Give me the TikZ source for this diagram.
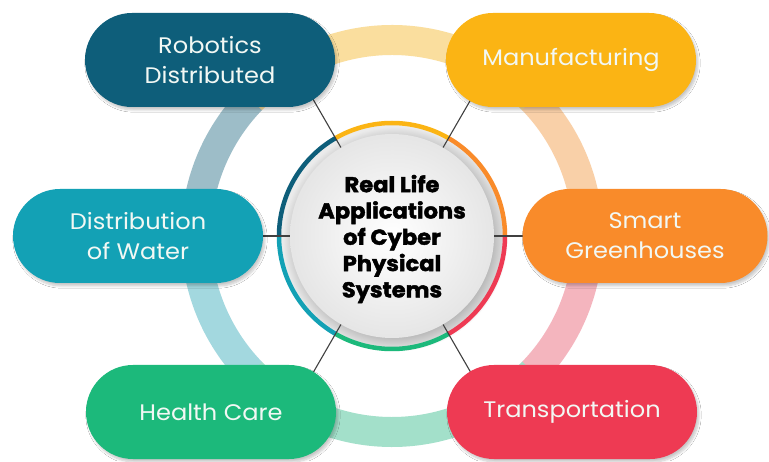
\documentclass[tikz,border=0pt]{standalone}
\usepackage{fontspec}
\setmainfont{Poppins}
\newfontfamily\heavyfont{Poppins}[FakeStretch=1.05, BoldFeatures={FakeBold=2}]
\newfontfamily\labelfont{Poppins}[FakeStretch=1.07]
\usetikzlibrary{shapes.misc,shadows.blur}
\definecolor{robC}{HTML}{0E5E7A}
\definecolor{manC}{HTML}{FBB414}
\definecolor{watC}{HTML}{13A1B5}
\definecolor{smaC}{HTML}{F98B2A}
\definecolor{heaC}{HTML}{1CB97B}
\definecolor{traC}{HTML}{EE3A53}
\definecolor{bandA}{HTML}{FADE9E}
\definecolor{bandB}{HTML}{F9D0A8}
\definecolor{bandC}{HTML}{F4B5BE}
\definecolor{bandD}{HTML}{A3E0CA}
\definecolor{bandE}{HTML}{A3D8DF}
\definecolor{bandF}{HTML}{9DBDC8}
\definecolor{labC}{HTML}{F2F8F4}
\begin{document}
\begin{tikzpicture}[x=1pt,y=1pt,
  pill/.style={rounded rectangle, minimum width=250pt, minimum height=94pt,
    inner sep=0pt, text=labC, align=center,
    font=\labelfont\fontsize{22.5}{30}\selectfont,
    blur shadow={shadow xshift=2pt, shadow yshift=-3pt, shadow blur steps=8, shadow opacity=22}},
  band/.style={line width=30pt},
  link/.style={draw=black!75, line width=1.1pt},
  ringarc/.style={line width=4.5pt}
]
\useasboundingbox (0,0) rectangle (769,461);
\fill[white] (0,0) rectangle (769,461);
\coordinate (c) at (392,225);
% background band
\draw[band, bandA] ([shift={(44:196)}]c) arc[start angle=44, end angle=136, radius=196];
\draw[band, bandB] ([shift={(0:196)}]c) arc[start angle=0, end angle=44, radius=196];
\draw[band, bandC] ([shift={(-44:196)}]c) arc[start angle=-44, end angle=0, radius=196];
\draw[band, bandD] ([shift={(224:196)}]c) arc[start angle=224, end angle=316, radius=196];
\draw[band, bandE] ([shift={(180:196)}]c) arc[start angle=180, end angle=224, radius=196];
\draw[band, bandF] ([shift={(136:196)}]c) arc[start angle=136, end angle=180, radius=196];
% central disc
\fill[gray!16] (c) circle (111);
\node[circle, minimum size=204pt, inner sep=0pt, draw=none,
  inner color=white, outer color=gray!20,
  circular drop shadow={shadow xshift=3pt, shadow yshift=-3pt, opacity=.5}] (core) at (c) {};
\foreach \a/\b/\col in {60/120/manC, 0/60/smaC, -60/0/traC, 240/300/heaC, 180/240/watC, 120/180/robC}
  \draw[ringarc, \col] ([shift={(\a:113)}]c) arc[start angle=\a, end angle=\b, radius=113];
\node[font=\heavyfont\bfseries\fontsize{21.5}{26.3}\selectfont, align=center, text=black] (title) at ([yshift=-3pt]c)
  {Real Life\\Applications\\of Cyber\\Physical\\Systems};
% connector ends
\foreach \ang/\nm/\rr in {120/k1/165, 60/k2/165, 180/k3/140, 0/k4/140, 240/k5/165, 300/k6/165}
  \coordinate (\nm) at ([shift={(\ang:\rr)}]c);
\draw[link] (core.120) -- (k1);
\draw[link] (core.60) -- (k2);
\draw[link] (core.180) -- (k3);
\draw[link] (core.0) -- (k4);
\draw[link] (core.240) -- (k5);
\draw[link] (core.300) -- (k6);
% boxes
\node[pill, fill=robC] (rob) at (210,401) {Robotics\\Distributed};
\node[pill, fill=manC] (man) at (571,401) {Manufacturing};
\node[pill, fill=watC] (wat) at (138,225) {Distribution\\of Water};
\node[pill, fill=smaC, minimum width=245pt] (sma) at (645,225) {Smart\\Greenhouses};
\node[pill, fill=heaC] (hea) at (211,49) {Health Care};
\node[pill, fill=traC] (tra) at (572,49) {Transportation};
\end{tikzpicture}
\end{document}
